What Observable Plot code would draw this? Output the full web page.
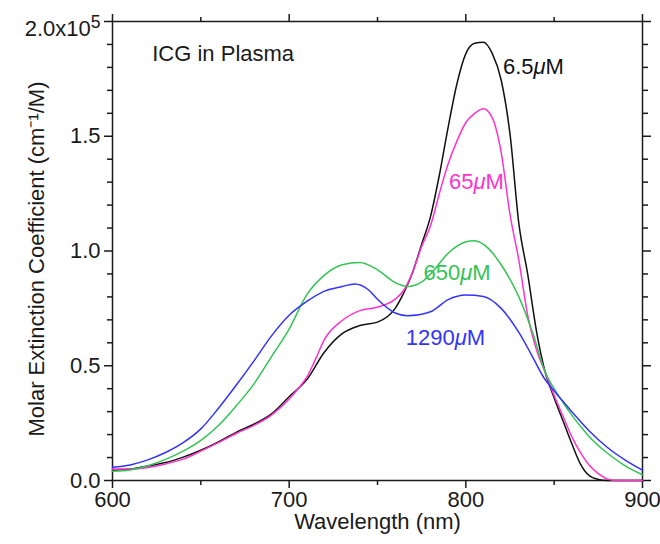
<!DOCTYPE html>
<html>
<head>
<meta charset="utf-8">
<script src="https://cdn.jsdelivr.net/npm/d3@7"></script>
<script src="https://cdn.jsdelivr.net/npm/@observablehq/plot@0.6"></script>
<style>
  body { margin: 0; background: #fff; }
  #chart svg { display: block; }
</style>
</head>
<body>
<div id="chart"></div>
<script>
// ---- data (extinction coefficient in units of 1e5 cm^-1/M) ----
const wl_6_5 = [600,610,620,630,640,650,660,670,680,690,700,710,720,730,740,750,760,765,770,775,780,785,790,795,800,805,810,815,820,825,830,835,840,845,850,855,860,865,870,875,880,890,900];
const ext_6_5 = [0.045,0.05,0.063,0.078,0.102,0.132,0.168,0.21,0.245,0.29,0.365,0.44,0.56,0.64,0.675,0.69,0.75,0.82,0.91,1.03,1.15,1.33,1.54,1.73,1.86,1.905,1.91,1.86,1.745,1.51,1.12,0.9,0.65,0.47,0.36,0.26,0.16,0.07,0.02,0.005,0,0,0];

const wl_65 = [600,610,620,630,640,650,660,670,680,690,700,705,710,715,720,730,740,750,760,765,770,775,780,785,790,795,800,805,810,815,820,825,830,835,840,845,850,855,860,865,870,875,880,885,900];
const ext_65 = [0.05,0.05,0.057,0.072,0.093,0.128,0.165,0.205,0.24,0.285,0.355,0.40,0.45,0.53,0.615,0.697,0.74,0.755,0.79,0.83,0.91,1.02,1.11,1.25,1.38,1.48,1.56,1.60,1.62,1.58,1.43,1.16,0.96,0.72,0.57,0.47,0.37,0.28,0.19,0.12,0.065,0.03,0.007,0,0];

const wl_650 = [600,610,620,630,640,650,660,670,680,690,700,710,720,730,740,750,760,767,775,780,790,800,805,812,820,830,838,845,850,855,860,865,870,880,890,900];
const ext_650 = [0.04,0.046,0.064,0.092,0.128,0.175,0.24,0.325,0.42,0.54,0.66,0.81,0.895,0.94,0.95,0.918,0.862,0.845,0.865,0.9,0.99,1.04,1.045,1.017,0.94,0.8,0.64,0.47,0.40,0.34,0.285,0.235,0.19,0.12,0.065,0.025];

const wl_1290 = [600,610,620,630,640,650,660,670,680,690,700,710,720,730,737,745,750,760,767,780,790,800,810,820,830,837,844,850,855,860,870,880,890,900];
const ext_1290 = [0.058,0.068,0.09,0.122,0.165,0.225,0.315,0.415,0.52,0.63,0.72,0.78,0.825,0.845,0.856,0.83,0.79,0.73,0.718,0.735,0.788,0.808,0.802,0.75,0.645,0.55,0.45,0.39,0.345,0.30,0.215,0.145,0.09,0.045];

const seriesNames = ["6.5μM", "65μM", "650μM", "1290μM"];
const seriesColors = ["#111111", "#ff33cc", "#33c455", "#3333ff"];

// label positions (data coordinates)
const labelX = [821, 790.5, 776, 766];
const labelY = [1.80, 1.30, 0.905, 0.62];

const titleText = ["ICG in Plasma"];
const titleX = [622.5];
const titleY = [1.86];

const xMajor = [600, 700, 800, 900];
const xMinor = [650, 750, 850];
const yMajor = [0, 0.5, 1.0, 1.5, 2.0];
const yTickLabels = ["0.0", "0.5", "1.0", "1.5", "2.0x10⁵"];
const yMinor = [0.1,0.2,0.3,0.4,0.6,0.7,0.8,0.9,1.1,1.2,1.3,1.4,1.6,1.7,1.8,1.9];

// ---- build table ----
const wls = [wl_6_5, wl_65, wl_650, wl_1290];
const exts = [ext_6_5, ext_65, ext_650, ext_1290];
const rows = seriesNames.flatMap((name, s) => wls[s].map((w, i) => ({name, wl: w, ext: exts[s][i]})));
const labels = seriesNames.map((name, i) => ({name, x: labelX[i], y: labelY[i]}));

const axisColor = "#1a1a1a";
const noText = () => "";

const chart = Plot.plot({
  width: 660,
  height: 544,
  marginLeft: 112,
  marginRight: 18,
  marginTop: 21,
  marginBottom: 64,
  style: {fontFamily: "'Liberation Sans', Arial, sans-serif", fontSize: "22px", color: axisColor, background: "white", overflow: "visible"},
  x: {domain: [600, 900]},
  y: {domain: [0, 2]},
  color: {domain: seriesNames, range: seriesColors},
  marks: [
    Plot.axisX({anchor: "bottom", ticks: xMajor, tickSize: 8, tickPadding: 3, strokeWidth: 1.5, tickFormat: d => String(d),
      label: "Wavelength (nm)", labelAnchor: "center", labelOffset: 48, labelArrow: "none"}),
    Plot.axisX({anchor: "bottom", ticks: xMinor, tickSize: 5, strokeWidth: 1.5, tickFormat: noText, label: null}),
    Plot.axisX({anchor: "top", ticks: xMajor, tickSize: 8, strokeWidth: 1.5, tickFormat: noText, label: null}),
    Plot.axisX({anchor: "top", ticks: xMinor, tickSize: 5, strokeWidth: 1.5, tickFormat: noText, label: null}),
    Plot.axisY({anchor: "left", ticks: yMajor, tickSize: 8, tickPadding: 4, strokeWidth: 1.5,
      tickFormat: d => yTickLabels[yMajor.indexOf(d)],
      label: "Molar Extinction Coefficient (cm⁻¹/M)", labelAnchor: "center", labelOffset: 84, labelArrow: "none"}),
    Plot.axisY({anchor: "left", ticks: yMinor, tickSize: 5, strokeWidth: 1.5, tickFormat: noText, label: null}),
    Plot.axisY({anchor: "right", ticks: yMajor, tickSize: 8, strokeWidth: 1.5, tickFormat: noText, label: null}),
    Plot.axisY({anchor: "right", ticks: yMinor, tickSize: 5, strokeWidth: 1.5, tickFormat: noText, label: null}),
    Plot.frame({stroke: axisColor, strokeWidth: 1.5}),
    Plot.line(rows, {x: "wl", y: "ext", z: "name", stroke: "name", strokeWidth: 1.5, curve: "monotone-x"}),
    Plot.text(labels, {x: "x", y: "y", text: "name", fill: "name", textAnchor: "start", fontSize: 22}),
    Plot.text(titleText, {x: titleX, y: titleY, text: d => d, fill: axisColor, textAnchor: "start", fontSize: 22})
  ]
});

d3.select(chart).selectAll("text").each(function() {
  const s = this.textContent;
  const sel = d3.select(this);
  if (s === "2.0x10⁵") {
    // render the 10^5 exponent as a real superscript
    sel.text("2.0x10");
    sel.append("tspan").attr("dy", "-0.45em").attr("font-size", "0.8em").text("5");
    const t = this.getAttribute("transform") || "";
    this.setAttribute("transform", (t + " translate(0,7)").trim());
  } else if (seriesNames.includes(s)) {
    // italic micro sign as in the original
    const [a, b] = s.split("μ");
    sel.text(a);
    sel.append("tspan").attr("font-style", "italic").text("μ");
    sel.append("tspan").text(b);
  } else if (s.startsWith("Molar")) {
    const t = this.getAttribute("transform") || "";
    this.setAttribute("transform", (t + " translate(-8,0)").trim());
  }
});

document.getElementById("chart").appendChild(chart);
</script>
</body>
</html>
